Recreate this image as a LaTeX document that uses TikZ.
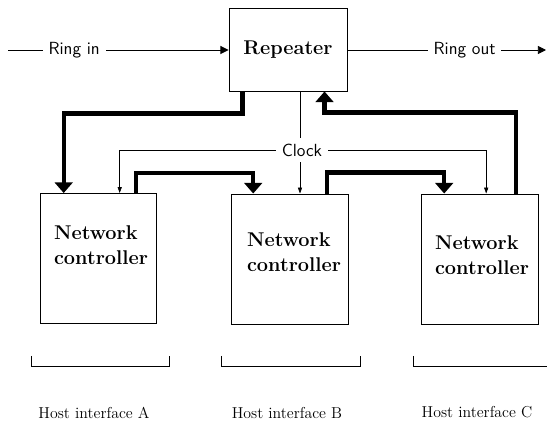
\documentclass[tikz,border=0pt]{standalone}
\usepackage{tikz}
\usetikzlibrary{arrows.meta}

\begin{document}
\begin{tikzpicture}[x=0.03cm, y=-0.03cm,
		box/.style={draw, line width=0.8pt, inner sep=0pt, minimum width=3.5cm, minimum height=3.9cm},
		boxtext/.style={font=\fontsize{17}{21}\selectfont\bfseries, align=left},
		sig/.style={line width=0.7pt},
		clk/.style={line width=0.5pt, -{Triangle[length=5pt, width=3.5pt]}},
		ring/.style={line width=0.8pt, -{Triangle[length=7pt, width=7pt]}},
		bus/.style={line width=3.5pt, -{Triangle[length=9pt, width=15pt]}},
		sans/.style={font=\fontsize{15}{17}\selectfont\sffamily, fill=white, inner sep=5pt},
		host/.style={font=\fontsize{13.5}{16}\selectfont}]
	\useasboundingbox (0,0) rectangle (547,422);
	\node[draw, line width=0.8pt, inner sep=0pt, minimum width=3.54cm, minimum height=2.49cm, font=\fontsize{17}{20}\selectfont\bfseries] (rep)at(288, 49.5) {Repeater};
	\node[box] (ncA)at(98.5, 258.5) {};
	\node[box] (ncB)at(290, 259) {};
	\node[box] (ncC)at(480, 259) {};
	\node[boxtext] (tA)at(101, 245) {Network\\controller};
	\node[boxtext] (tB)at(294, 252) {Network\\controller};
	\node[boxtext] (tC)at(482, 255) {Network\\controller};
	\coordinate (rin) at (8, 50);
	\coordinate (rout) at (546, 50);
	\draw[ring] (rin) -- node[sans, pos=0.3] (lin) {Ring in} (rep.west |- rin);
	\draw[ring] (rep.east |- rout) -- node[sans, pos=0.59] (lout) {Ring out} (rout);
	% clock
	\node[sans] (clock)at(302, 150) {Clock};
	\draw[sig] (rep.south -| 300, 0) -- (clock.north -| 300, 0);
	\draw[clk] (clock.south -| 300, 0) -- (ncB.north -| 300, 0);
	\draw[clk] (clock.west) -| ([xshift=2.4cm]ncA.north west);
	\draw[clk] (clock.east) -| ([xshift=1.95cm]ncC.north west);
	% data path round the ring
	\draw[bus] ([xshift=0.42cm]rep.south west) -- ++(0, 22) -| ([xshift=0.72cm]ncA.north west);
	\draw[bus] ([xshift=2.88cm]ncA.north west) -- ++(0, -20) -| ([xshift=0.66cm]ncB.north west);
	\draw[bus] ([xshift=2.88cm]ncB.north west) -- ++(0, -21) -| ([xshift=0.69cm]ncC.north west);
	\draw[bus] ([xshift=2.85cm]ncC.north west) -- ++(0, -81) -| ([xshift=2.88cm]rep.south west);
	% host interfaces
	\draw[sig] (31, 356) |- (169, 366) -- (169, 356);
	\draw[sig] (221, 356) |- (360, 366) -- (360, 356);
	\draw[sig] (413, 356) |- (547, 366);
	\node[host] (hA)at(94, 413) {Host interface A};
	\node[host] (hB)at(287, 413) {Host interface B};
	\node[host] (hC)at(477, 412) {Host interface C};
\end{tikzpicture}
\end{document}
